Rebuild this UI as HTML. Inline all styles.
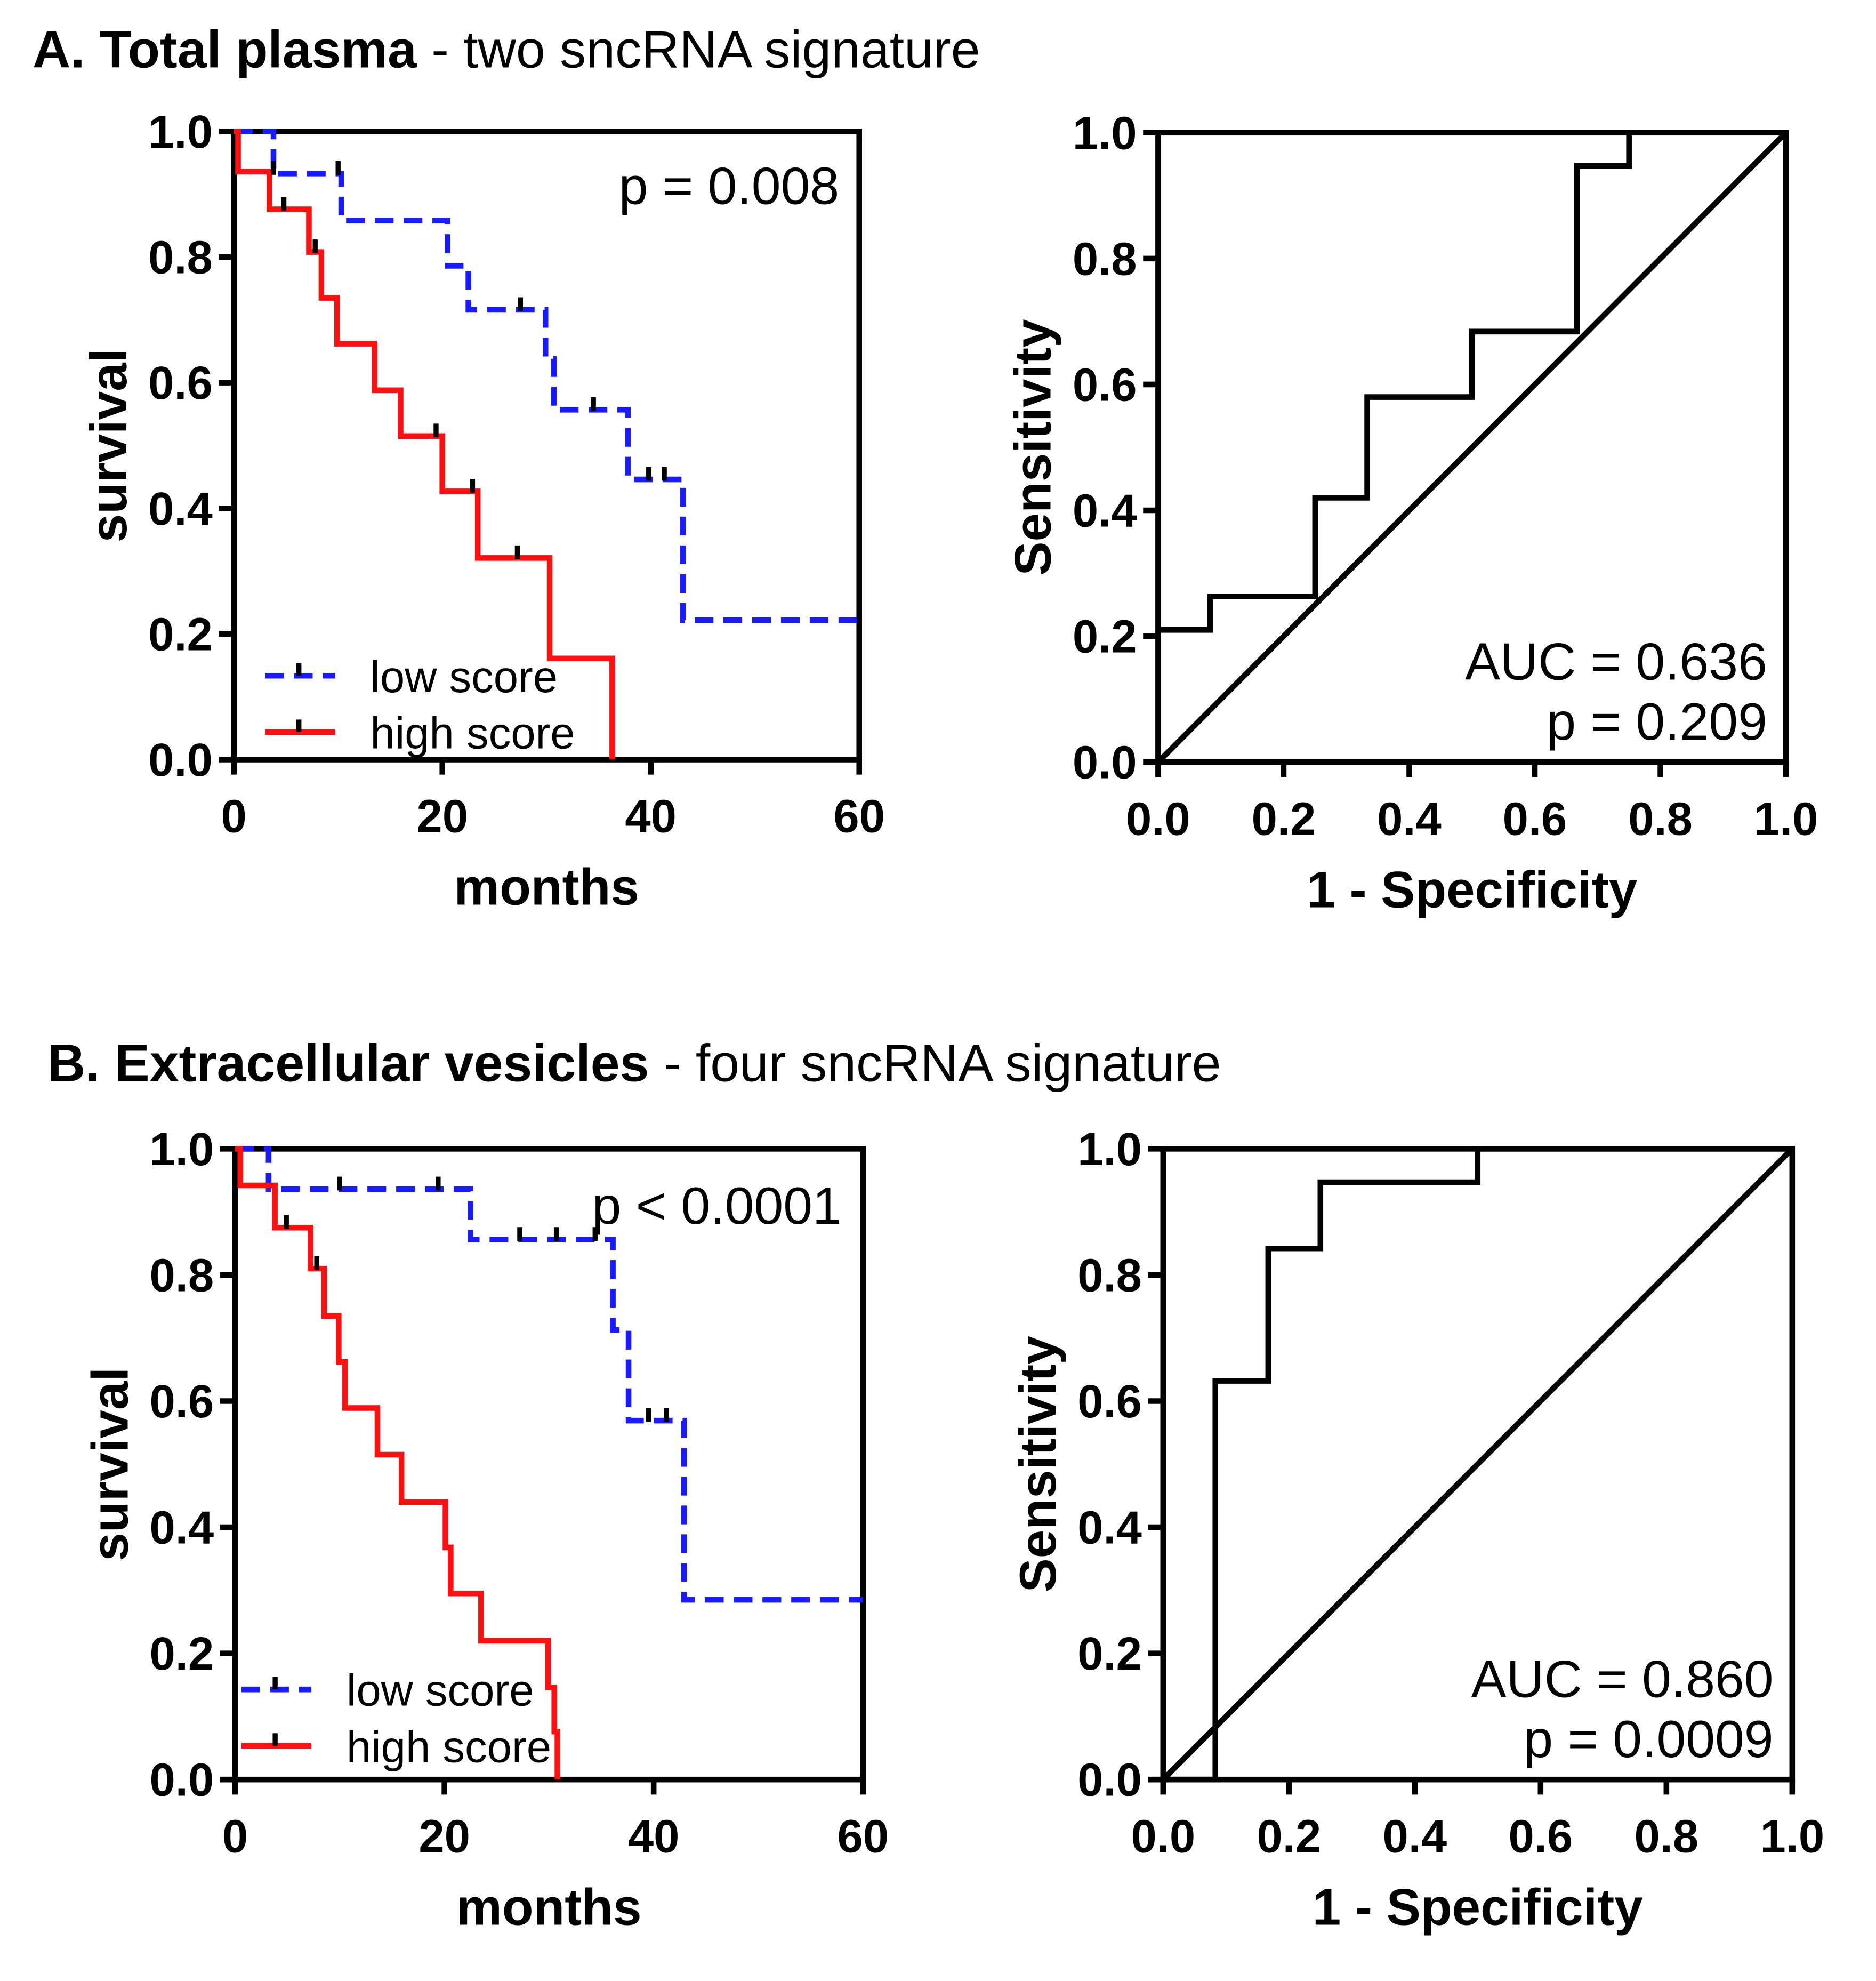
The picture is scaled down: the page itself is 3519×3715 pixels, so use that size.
<!DOCTYPE html>
<html><head><meta charset="utf-8"><style>
html,body{margin:0;padding:0;background:#fff}
svg{display:block}
text{font-family:"Liberation Sans",Arial,sans-serif}
</style></head><body>
<svg id="fig" xmlns="http://www.w3.org/2000/svg" width="3519" height="3715" viewBox="0 0 1500 1583" preserveAspectRatio="none">
<text x="26" y="54" font-size="42"><tspan font-weight="bold">A. Total plasma</tspan> - two sncRNA signature</text>
<text x="38" y="864" font-size="42"><tspan font-weight="bold">B. Extracellular  vesicles</tspan> - four sncRNA signature</text>
<g id="g"></g>
</svg>
<script>
// ---- data ----
const kmTicks = [0, 20, 40, 60];
const survTicks = [0, 0.2, 0.4, 0.6, 0.8, 1.0];
const rocTicks = [0, 0.2, 0.4, 0.6, 0.8, 1.0];
// Panel A KM
const aLowT = [0, 3.8, 10.3, 20.5, 22.5, 29.9, 30.7, 37.8, 43.1, 60];
const aLowS = [1, 0.933, 0.858, 0.786, 0.716, 0.638, 0.557, 0.446, 0.222, 0.222];
const aLowCensT = [3.8, 10.0, 27.5, 34.5, 39.8, 41.3];
const aHighT = [0, 0.4, 3.4, 7.2, 8.4, 9.9, 13.5, 16.0, 20.0, 23.4, 30.3, 36.3];
const aHighS = [1, 0.936, 0.876, 0.808, 0.735, 0.662, 0.588, 0.515, 0.427, 0.321, 0.161, 0];
const aHighCensT = [4.8, 7.8, 19.4, 22.9, 27.2];
// Panel B KM
const bLowT = [0, 3.2, 22.5, 36.1, 37.6, 42.9, 60];
const bLowS = [1, 0.936, 0.856, 0.713, 0.569, 0.285, 0.285];
const bLowCensT = [10.0, 19.4, 27.2, 30.7, 34.4, 39.5, 41.2];
const bHighT = [0, 0.5, 3.8, 7.2, 8.5, 9.9, 10.5, 13.6, 15.9, 20.1, 20.6, 23.5, 29.9, 30.5, 30.8];
const bHighS = [1, 0.942, 0.875, 0.81, 0.735, 0.662, 0.589, 0.515, 0.44, 0.368, 0.295, 0.22, 0.146, 0.076, 0];
const bHighCensT = [4.9, 7.8];
// ROC
const aRocX = [0, 0.083, 0.083, 0.25, 0.25, 0.333, 0.333, 0.5, 0.5, 0.667, 0.667, 0.75, 0.75, 1];
const aRocY = [0.21, 0.21, 0.263, 0.263, 0.42, 0.42, 0.58, 0.58, 0.684, 0.684, 0.947, 0.947, 1, 1];
const bRocX = [0, 0.083, 0.083, 0.167, 0.167, 0.25, 0.25, 0.5, 0.5, 1];
const bRocY = [0, 0, 0.632, 0.632, 0.842, 0.842, 0.947, 0.947, 1, 1];

const NS = "http://www.w3.org/2000/svg";
const root = document.getElementById('g');
function mk(tag, attrs, parent) {
  const e = document.createElementNS(NS, tag);
  for (const k in attrs) e.setAttribute(k, attrs[k]);
  (parent || root).appendChild(e);
  return e;
}
function txt(s, attrs, name) {
  const e = mk('text', attrs);
  e.textContent = s;
  
  
  return e;
}
function axes(box, xTicks, xMax, yTicks, xFmt, xTitle, yTitle, pfx) {
  const X = v => box.x0 + v / xMax * (box.x1 - box.x0);
  const Y = v => box.y1 - v * (box.y1 - box.y0);
  const fr = mk('rect', {x: box.x0, y: box.y0, width: box.x1 - box.x0, height: box.y1 - box.y0, fill: 'none', stroke: '#000', 'stroke-width': 4.5});
  
  
  xTicks.forEach(v => {
    const t = mk('line', {x1: X(v), x2: X(v), y1: box.y1, y2: box.y1 + 12, stroke: '#000', 'stroke-width': 4.5});
    
    
    txt(xFmt(v), {x: X(v), y: box.y1 + 58, 'font-size': 37, 'font-weight': 'bold', 'text-anchor': 'middle'}, pfx + '-x-tick-label');
  });
  yTicks.forEach(v => {
    const t = mk('line', {x1: box.x0 - 12, x2: box.x0, y1: Y(v), y2: Y(v), stroke: '#000', 'stroke-width': 4.5});
    
    
    txt(v.toFixed(1), {x: box.x0 - 17, y: Y(v) + 13, 'font-size': 37, 'font-weight': 'bold', 'text-anchor': 'end'}, pfx + '-y-tick-label');
  });
  txt(xTitle, {x: (box.x0 + box.x1) / 2, y: box.y1 + 116, 'font-size': 41, 'font-weight': 'bold', 'text-anchor': 'middle'}, pfx + '-x-axis-title');
  const cx = box.x0 - 86, cy = (box.y0 + box.y1) / 2;
  txt(yTitle, {x: cx, y: cy, 'font-size': 41, 'font-weight': 'bold', 'text-anchor': 'middle', transform: `rotate(-90 ${cx} ${cy})`}, pfx + '-y-axis-title');
  return {X, Y};
}
function stepPath(T, S, X, Y) {
  let d = `M${X(T[0])},${Y(S[0])}`;
  for (let i = 1; i < T.length; i++) d += ` H${X(T[i])} V${Y(S[i])}`;
  return d;
}
function survAt(T, S, t) {
  let s = S[0];
  for (let i = 0; i < T.length; i++) if (T[i] <= t) s = S[i];
  return s;
}
function km(box, low, high, pText, pX, pY, leg, pfx) {
  const {X, Y} = axes(box, kmTicks, 60, survTicks, v => String(v), 'months', 'survival', pfx);
  const lo = mk('path', {d: stepPath(low.T, low.S, X, Y), fill: 'none', stroke: '#1a1aff', 'stroke-width': 4.5, 'stroke-dasharray': '15,8'});
  
  
  const hi = mk('path', {d: stepPath(high.T, high.S, X, Y), fill: 'none', stroke: '#ff1010', 'stroke-width': 4.5});
  
  
  [[low, 'low'], [high, 'high']].forEach(([ser, nm]) => {
    ser.C.forEach(t => {
      const s = survAt(ser.T, ser.S, t);
      const c = mk('line', {x1: X(t), x2: X(t), y1: Y(s) - 10, y2: Y(s) + 1, stroke: '#000', 'stroke-width': 4});
      
      
    });
  });
  txt(pText, {x: pX, y: pY, 'font-size': 42, 'text-anchor': 'end'}, pfx + '-p-value');
  const l1 = mk('line', {x1: leg.x, x2: leg.x + 56, y1: leg.y, y2: leg.y, stroke: '#1a1aff', 'stroke-width': 4.5, 'stroke-dasharray': '15,8'});
  
  
  const l2 = mk('line', {x1: leg.x, x2: leg.x + 56, y1: leg.y + 45, y2: leg.y + 45, stroke: '#ff1010', 'stroke-width': 4.5});
  
  
  [0, 45].forEach(dy => {
    const m = mk('line', {x1: leg.x + 27, x2: leg.x + 27, y1: leg.y + dy - 10, y2: leg.y + dy, stroke: '#000', 'stroke-width': 4});
    
    
  });
  txt('low score', {x: leg.x + 84, y: leg.y + 13, 'font-size': 35.5}, pfx + '-legend-low-label');
  txt('high score', {x: leg.x + 84, y: leg.y + 58, 'font-size': 35.5}, pfx + '-legend-high-label');
}
function roc(box, RX, RY, auc, p, pfx) {
  const {X, Y} = axes(box, rocTicks, 1, rocTicks, v => v.toFixed(1), '1 - Specificity', 'Sensitivity', pfx);
  const dg = mk('line', {x1: X(0), y1: Y(0), x2: X(1), y2: Y(1), stroke: '#000', 'stroke-width': 4.5});
  
  
  let d = '';
  RX.forEach((x, i) => { d += (i ? ' L' : 'M') + X(x) + ',' + Y(RY[i]); });
  const c = mk('path', {d, fill: 'none', stroke: '#000', 'stroke-width': 4.5});
  
  
  txt(auc, {x: box.x1 - 15, y: box.y1 - 66, 'font-size': 42, 'text-anchor': 'end'}, pfx + '-auc-label');
  txt(p, {x: box.x1 - 15, y: box.y1 - 18, 'font-size': 42, 'text-anchor': 'end'}, pfx + '-p-value');
}
km({x0: 187, x1: 687, y0: 105, y1: 607},
   {T: aLowT, S: aLowS, C: aLowCensT}, {T: aHighT, S: aHighS, C: aHighCensT},
   'p = 0.008', 671, 163, {x: 212, y: 540}, 'km-a');
roc({x0: 926, x1: 1428, y0: 106, y1: 609}, aRocX, aRocY, 'AUC = 0.636', 'p = 0.209', 'roc-a');
km({x0: 188, x1: 690, y0: 918, y1: 1422},
   {T: bLowT, S: bLowS, C: bLowCensT}, {T: bHighT, S: bHighS, C: bHighCensT},
   'p < 0.0001', 673, 978, {x: 193, y: 1350}, 'km-b');
roc({x0: 930, x1: 1433, y0: 918, y1: 1422}, bRocX, bRocY, 'AUC = 0.860', 'p = 0.0009', 'roc-b');
</script>
</body></html>
